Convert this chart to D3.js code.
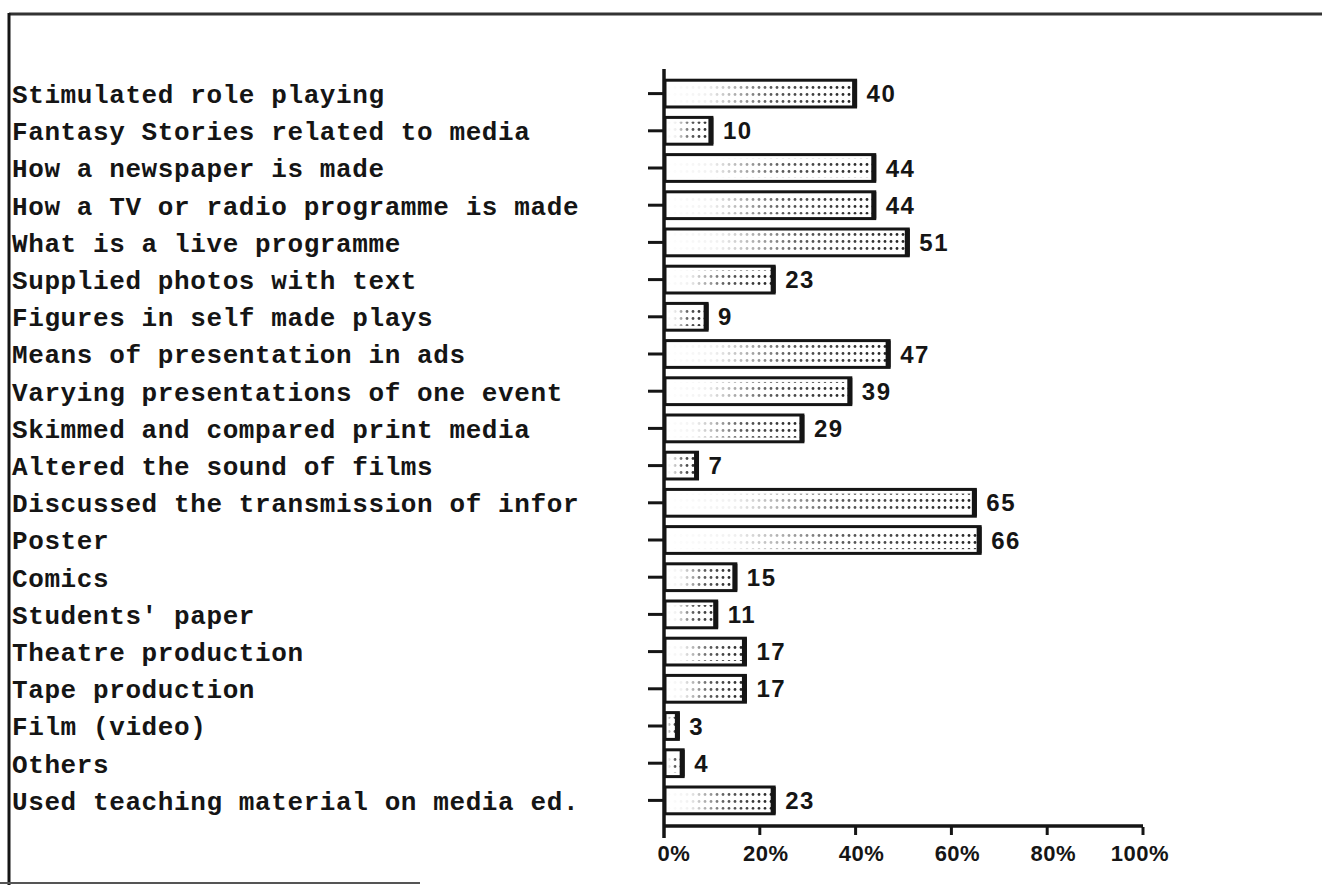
<!DOCTYPE html>
<html><head><meta charset="utf-8">
<script src="https://cdn.jsdelivr.net/npm/d3@7"></script>
<style>body{margin:0;background:#fff}svg{display:block}</style>
</head><body>
<script>
const categories = [
  "Stimulated role playing",
  "Fantasy Stories related to media",
  "How a newspaper is made",
  "How a TV or radio programme is made",
  "What is a live programme",
  "Supplied photos with text",
  "Figures in self made plays",
  "Means of presentation in ads",
  "Varying presentations of one event",
  "Skimmed and compared print media",
  "Altered the sound of films",
  "Discussed the transmission of infor",
  "Poster",
  "Comics",
  "Students' paper",
  "Theatre production",
  "Tape production",
  "Film (video)",
  "Others",
  "Used teaching material on media ed."
];
const values = [40, 10, 44, 44, 51, 23, 9, 47, 39, 29, 7, 65, 66, 15, 11, 17, 17, 3, 4, 23];
const xTicks = [0, 20, 40, 60, 80, 100];
const xTickLabels = ["0%", "20%", "40%", "60%", "80%", "100%"];

const W = 1322, H = 885;
const svg = d3.select("body").append("svg").attr("width", W).attr("height", H);
const ink = "#151515";

const defs = svg.append("defs");
const pat = defs.append("pattern").attr("id","dots").attr("patternUnits","userSpaceOnUse")
  .attr("width",6).attr("height",7);
pat.append("circle").attr("cx",3).attr("cy",3.5).attr("r",1.4).attr("fill","#222");
const grad = defs.append("linearGradient").attr("id","fadeGrad").attr("x1",0).attr("x2",1).attr("y1",0).attr("y2",0);
grad.append("stop").attr("offset","0%").attr("stop-color","#000");
grad.append("stop").attr("offset","22%").attr("stop-color","#111");
grad.append("stop").attr("offset","55%").attr("stop-color","#bbb");
grad.append("stop").attr("offset","100%").attr("stop-color","#fff");
defs.append("mask").attr("id","fade").attr("maskContentUnits","objectBoundingBox")
  .append("rect").attr("width",1).attr("height",1).attr("fill","url(#fadeGrad)");

// frame
svg.append("line").attr("x1",9).attr("x2",W).attr("y1",14).attr("y2",14).attr("stroke","#333").attr("stroke-width",3);
svg.append("line").attr("x1",9).attr("x2",9).attr("y1",13).attr("y2",H).attr("stroke",ink).attr("stroke-width",3);
svg.append("line").attr("x1",0).attr("x2",420).attr("y1",883).attr("y2",883).attr("stroke","#555").attr("stroke-width",2);

const x = d3.scaleLinear().domain([0,100]).range([664,1143]);
const y = d3.scaleBand().domain(categories).range([75,819]).paddingInner(0.28).paddingOuter(0.14);

// category labels
svg.append("g").selectAll("text").data(categories).join("text")
  .attr("x",12).attr("y",d=>y(d)+y.bandwidth()/2)
  .attr("dy","0.36em")
  .attr("font-family","'Liberation Mono', monospace").attr("font-weight","bold")
  .attr("font-size",26).attr("letter-spacing",0.6).attr("fill",ink)
  .text(d=>d);

// y ticks
svg.append("g").selectAll("line").data(categories).join("line")
  .attr("x1",648).attr("x2",664)
  .attr("y1",d=>y(d)+y.bandwidth()/2).attr("y2",d=>y(d)+y.bandwidth()/2)
  .attr("stroke",ink).attr("stroke-width",3);

// bars
const bars = svg.append("g").selectAll("g").data(values).join("g");
bars.append("rect")
  .attr("x",x(0)+1).attr("y",(d,i)=>y(categories[i]))
  .attr("width",d=>x(d)-x(0)-1).attr("height",y.bandwidth())
  .attr("fill","#fff");
bars.append("rect")
  .attr("x",x(0)+1).attr("y",(d,i)=>y(categories[i])+4)
  .attr("width",d=>x(d)-x(0)-1).attr("height",y.bandwidth()-8)
  .attr("fill","url(#dots)").attr("mask","url(#fade)");
bars.append("rect")
  .attr("x",x(0)+1).attr("y",(d,i)=>y(categories[i]))
  .attr("width",d=>x(d)-x(0)-1).attr("height",y.bandwidth())
  .attr("fill","none").attr("stroke",ink).attr("stroke-width",3);
bars.append("line")
  .attr("x1",d=>x(d)-1).attr("x2",d=>x(d)-1)
  .attr("y1",(d,i)=>y(categories[i])).attr("y2",(d,i)=>y(categories[i])+y.bandwidth())
  .attr("stroke",ink).attr("stroke-width",5);
bars.append("text")
  .attr("x",d=>x(d)+11).attr("y",(d,i)=>y(categories[i])+y.bandwidth()/2)
  .attr("dy","0.36em")
  .attr("font-family","'Liberation Sans', sans-serif").attr("font-weight","bold")
  .attr("font-size",24).attr("letter-spacing",1.5).attr("fill",ink)
  .text(d=>d);

// axes lines
svg.append("line").attr("x1",x(0)).attr("x2",x(0)).attr("y1",69).attr("y2",838).attr("stroke",ink).attr("stroke-width",3.5);
svg.append("line").attr("x1",x(0)).attr("x2",x(100)).attr("y1",826).attr("y2",826).attr("stroke",ink).attr("stroke-width",3.5);
svg.append("g").selectAll("line").data(xTicks.slice(1)).join("line")
  .attr("x1",d=>x(d)).attr("x2",d=>x(d)).attr("y1",827).attr("y2",835)
  .attr("stroke",ink).attr("stroke-width",3);
svg.append("g").selectAll("text").data(xTicks).join("text")
  .attr("x",d=>x(d)+(d===0?10:d===100?-3:6)).attr("y",861)
  .attr("text-anchor","middle")
  .attr("font-family","'Liberation Sans', sans-serif").attr("font-weight","bold")
  .attr("font-size",22).attr("letter-spacing",0.5).attr("fill",ink)
  .text((d,i)=>xTickLabels[i]);
</script>
</body></html>
